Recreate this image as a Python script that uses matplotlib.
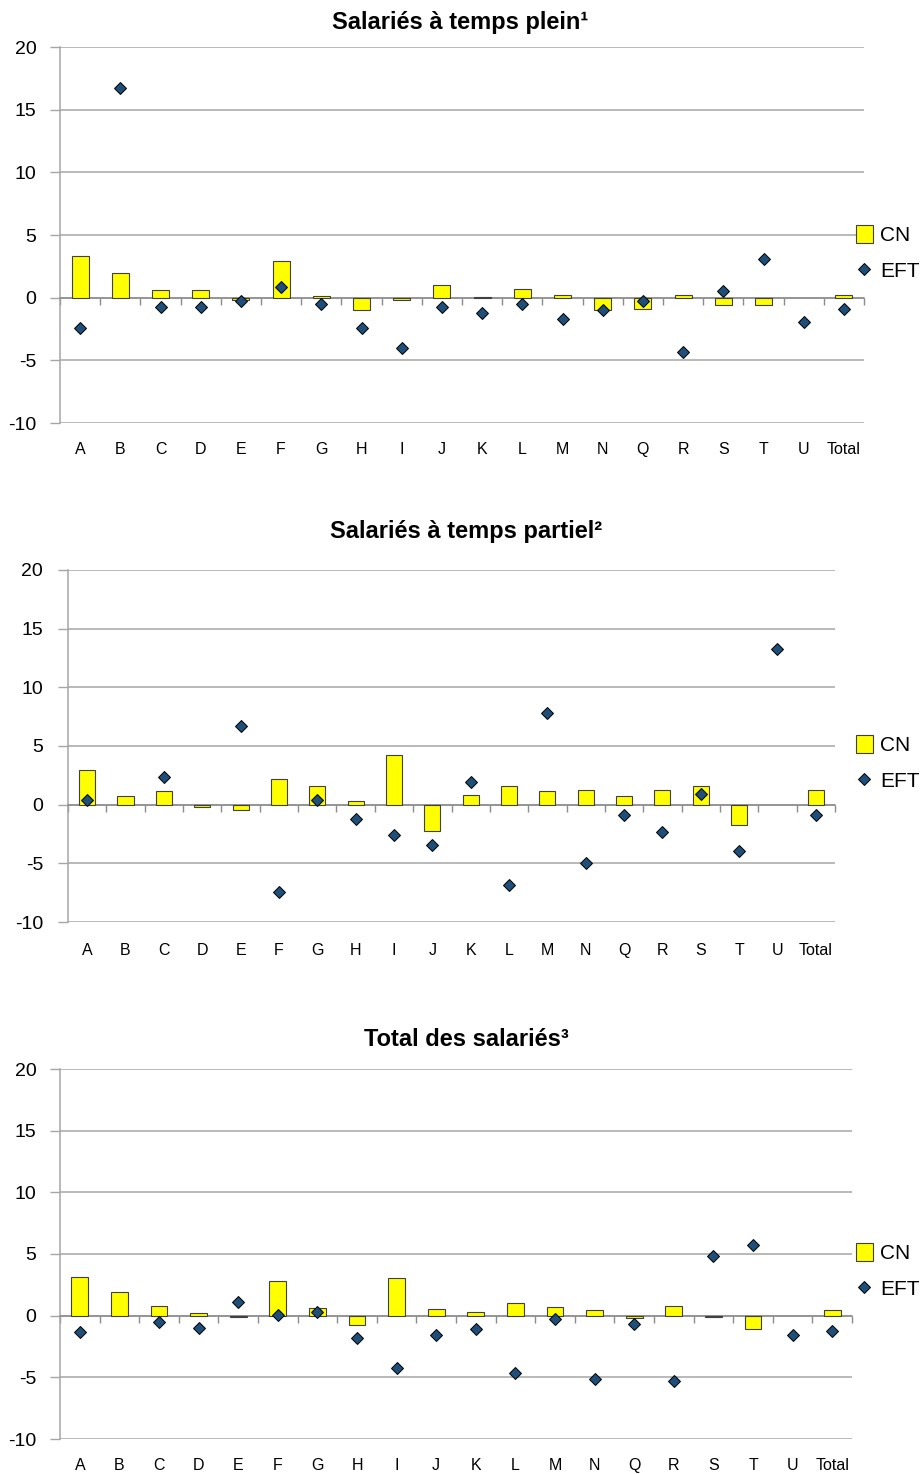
import matplotlib
matplotlib.use("Agg")
import matplotlib.pyplot as plt
import numpy as np

plt.rcParams['font.family'] = ['Liberation Sans', 'DejaVu Sans']
plt.rcParams['axes.unicode_minus'] = False

nan = np.nan
categories = ["A", "B", "C", "D", "E", "F", "G", "H", "I", "J", "K", "L",
              "M", "N", "Q", "R", "S", "T", "U", "Total"]

# Salariés à temps plein
cn_plein = [3.3, 2.0, 0.6, 0.6, -0.15, 2.9, 0.15, -1.0, -0.15, 1.0, 0.05, 0.67,
            0.2, -1.0, -0.9, 0.2, -0.6, -0.6, nan, 0.2]
eft_plein = [-2.45, 16.7, -0.75, -0.75, -0.25, 0.85, -0.5, -2.45, -4.0, -0.72, -1.25, -0.5,
             -1.73, -1.0, -0.25, -4.3, 0.56, 3.07, -1.95, -0.88]

# Salariés à temps partiel
cn_partiel = [2.95, 0.77, 1.14, -0.17, -0.45, 2.16, 1.62, 0.28, 4.23, -2.24, 0.85, 1.62,
              1.14, 1.22, 0.71, 1.22, 1.62, -1.76, nan, 1.28]
eft_partiel = [0.4, nan, 2.33, nan, 6.73, -7.47, 0.4, -1.19, -2.61, -3.43, 1.93, -6.87,
               7.78, -5.0, -0.85, -2.36, 0.91, -3.95, 13.23, -0.85]

# Total des salariés
cn_total = [3.12, 1.92, 0.76, 0.22, -0.08, 2.82, 0.65, -0.76, 3.06, 0.54, 0.3, 1.03,
            0.7, 0.46, -0.22, 0.79, -0.08, -1.06, nan, 0.46]
eft_total = [-1.36, nan, -0.54, -1.03, 1.08, 0.03, 0.33, -1.84, -4.28, -1.57, -1.11, -4.61,
             -0.3, -5.15, -0.65, -5.28, 4.8, 5.77, -1.54, -1.22]

W, H = 921, 1474
fig = plt.figure(figsize=(W / 100, H / 100), dpi=100)


def px_axes(left, right, top, bottom):
    return fig.add_axes([left / W, 1 - bottom / H, (right - left) / W, (bottom - top) / H])


def panel(ax, cn, eft, title, title_xy, legend_y, label_pad, ytick_pad):
    x = np.arange(len(categories))
    bars = ax.bar(x, cn, width=0.42, color='#FFFF00', edgecolor='#404040', linewidth=0.8,
                  label='CN', zorder=3)
    pts, = ax.plot(x, eft, 'D', ms=5.8, color='#1F4E79', mec='black', mew=0.7,
                   label='EFT', zorder=4)

    ax.set_xlim(-0.5, len(categories) - 0.5)
    ax.set_ylim(-10, 20)
    ax.set_yticks(range(-10, 21, 5))
    ax.yaxis.grid(True, color='#A6A6A6', linewidth=1.1)
    ax.set_axisbelow(True)
    ax.tick_params(axis='y', length=7, width=1, color='#A6A6A6', labelsize=14,
                   pad=ytick_pad)

    for s in ('top', 'right'):
        ax.spines[s].set_visible(False)
    ax.spines['left'].set_color('#A6A6A6')
    ax.spines['left'].set_linewidth(1.1)
    # horizontal axis drawn at zero, ticks between categories
    ax.spines['bottom'].set_position(('data', 0))
    ax.spines['bottom'].set_color('#8C8C8C')
    ax.spines['bottom'].set_linewidth(1.1)
    ax.set_xticks(np.arange(len(categories) + 1) - 0.5)
    ax.set_xticklabels([])
    ax.tick_params(axis='x', length=5, width=1, color='#8C8C8C')

    # category labels sit under the lowest gridline
    sec = ax.secondary_xaxis(0)
    sec.set_xticks(x, categories)
    sec.tick_params(length=0, pad=label_pad, labelsize=11.5)
    sec.spines['bottom'].set_visible(False)

    fig.text(title_xy[0] / W, 1 - title_xy[1] / H, title, ha='center', va='center',
             fontsize=17, fontweight='bold')
    ax.legend([bars, pts], ['CN', 'EFT'], loc='center left',
              bbox_to_anchor=(856 / W, 1 - legend_y / H),
              bbox_transform=fig.transFigure, frameon=False, fontsize=15,
              handlelength=0.8, handleheight=0.9, handletextpad=0.35,
              labelspacing=0.75, borderpad=0, borderaxespad=0)


ax1 = px_axes(60, 864, 47, 423)
panel(ax1, cn_plein, eft_plein, "Salariés à temps plein¹", (460, 22), 253, 14, 10)

ax2 = px_axes(68, 835, 570, 922)
panel(ax2, cn_partiel, eft_partiel, "Salariés à temps partiel²", (466, 531), 763, 15, 11)

ax3 = px_axes(60, 852, 1069, 1439)
panel(ax3, cn_total, eft_total, "Total des salariés³", (466, 1040), 1271, 14, 10)

fig.savefig("out.png", dpi=100)
